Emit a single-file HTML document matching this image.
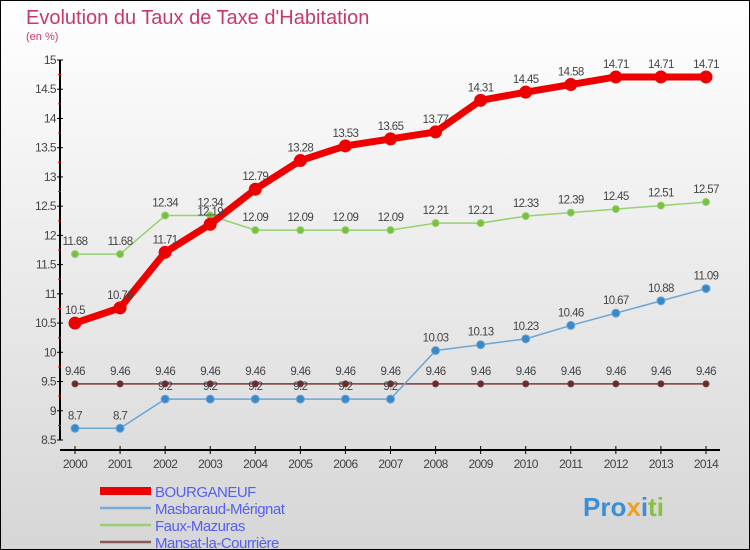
<!DOCTYPE html>
<html><head><meta charset="utf-8"><style>
body{margin:0;width:750px;height:550px;overflow:hidden;font-family:"Liberation Sans",sans-serif;}
svg{display:block}
</style></head><body>
<svg id="c" width="750" height="550" xmlns="http://www.w3.org/2000/svg">
<defs><linearGradient id="bg" x1="0" y1="0" x2="0" y2="1"><stop offset="0" stop-color="#ffffff"/><stop offset="1" stop-color="#d6d6d6"/></linearGradient></defs>
<rect x="0.5" y="0.5" width="749" height="549" fill="url(#bg)" stroke="#000"/>
<text x="26" y="24" font-size="20" fill="#c8386a">Evolution du Taux de Taxe d'Habitation</text>
<text x="26" y="40" font-size="11" fill="#c8386a">(en %)</text>
<g id="axes"></g><g id="series"></g><g id="legend"></g>
<text x="583" y="516" font-size="26" font-weight="bold"><tspan fill="#3a8fd8">Pro</tspan><tspan fill="#f0a020">x</tspan><tspan fill="#3a8fd8">i</tspan><tspan fill="#8cc040">ti</tspan></text>
</svg>
<script>
const years=[2000,2001,2002,2003,2004,2005,2006,2007,2008,2009,2010,2011,2012,2013,2014];
const bourganeuf=[10.5,10.76,11.71,12.19,12.79,13.28,13.53,13.65,13.77,14.31,14.45,14.58,14.71,14.71,14.71];
const masbaraud=[8.7,8.7,9.2,9.2,9.2,9.2,9.2,9.2,10.03,10.13,10.23,10.46,10.67,10.88,11.09];
const faux=[11.68,11.68,12.34,12.34,12.09,12.09,12.09,12.09,12.21,12.21,12.33,12.39,12.45,12.51,12.57];
const mansat=[9.46,9.46,9.46,9.46,9.46,9.46,9.46,9.46,9.46,9.46,9.46,9.46,9.46,9.46,9.46];
const yTicks=[8.5,9,9.5,10,10.5,11,11.5,12,12.5,13,13.5,14,14.5,15];
const seriesNames=["BOURGANEUF","Masbaraud-Mérignat","Faux-Mazuras","Mansat-la-Courrière"];
const NS="http://www.w3.org/2000/svg";
const xs=i=>75+(706-75)*i/(years.length-1);
const ys=v=>440-(v-8.5)*(380/6.5);
function mk(tag,attrs,parent,txt){const e=document.createElementNS(NS,tag);for(const k in attrs)e.setAttribute(k,attrs[k]);if(txt!==undefined)e.textContent=txt;parent.appendChild(e);return e;}
const axes=document.getElementById('axes');
let yl=mk('line',{x1:60,y1:ys(15),x2:60,y2:440,stroke:'#000','stroke-width':2},axes);


let xl=mk('line',{x1:60,y1:450,x2:720,y2:450,stroke:'#000','stroke-width':2},axes);


yTicks.forEach((t,i)=>{const y=ys(t);
 mk('line',{x1:57,y1:y,x2:63,y2:y,stroke:'#000'},axes);
 if(i<yTicks.length-1)mk('line',{x1:58,y1:ys(t+0.25),x2:61,y2:ys(t+0.25),stroke:'#e00'},axes);
 const tx=mk('text',{x:56,y:y+4,'font-size':12,fill:'#444','text-anchor':'end','letter-spacing':'-0.6'},axes,String(t));
 
 
});
years.forEach((yr,i)=>{const x=xs(i);
 mk('line',{x1:x,y1:446,x2:x,y2:454,stroke:'#000'},axes);
 const tx=mk('text',{x:x,y:468,'font-size':12,fill:'#444','text-anchor':'middle','letter-spacing':'-0.6'},axes,String(yr));
 
 
});
const sg=document.getElementById('series');
function draw(vals,color,dot,lw,r,name){
 const g=mk('g',{},sg);
 
 
 const pl=mk('polyline',{points:vals.map((v,i)=>xs(i)+','+ys(v)).join(' '),fill:'none',stroke:color,'stroke-width':lw,'stroke-linejoin':'round'},g);
 
 
 vals.forEach((v,i)=>{
  const c=mk('circle',{cx:xs(i),cy:ys(v),r:r,fill:dot,stroke:color,'stroke-width':1},g);
  
  
  const t=mk('text',{x:xs(i),y:ys(v)-9,'font-size':11.5,fill:'#444','text-anchor':'middle','letter-spacing':'-0.6'},g,String(v));
  
  
 });
}
draw(mansat,'#7a3a3a','#6a2a2a',1.5,3,'mansat');
draw(masbaraud,'#6aa6d6','#3a88c8',1.5,4,'masbaraud');
draw(faux,'#98d070','#78c040',1.5,3.5,'faux-mazuras');
draw(bourganeuf,'#ee0000','#ee0000',7,6,'bourganeuf');
const lg=document.getElementById('legend');
const lc=['#ee0000','#78aad6','#98d070','#8a5a5a'],lw=[8,2.5,2.5,2.5];
seriesNames.forEach((n,i)=>{const y=491+i*17;
 const g=mk('g',{},lg);
 
 
 mk('line',{x1:100,y1:y,x2:151,y2:y,stroke:lc[i],'stroke-width':lw[i]},g);
 mk('text',{x:155,y:y+6,'font-size':15,fill:'#5560ee','letter-spacing':'-0.5'},g,n);
});
</script>
</body></html>
